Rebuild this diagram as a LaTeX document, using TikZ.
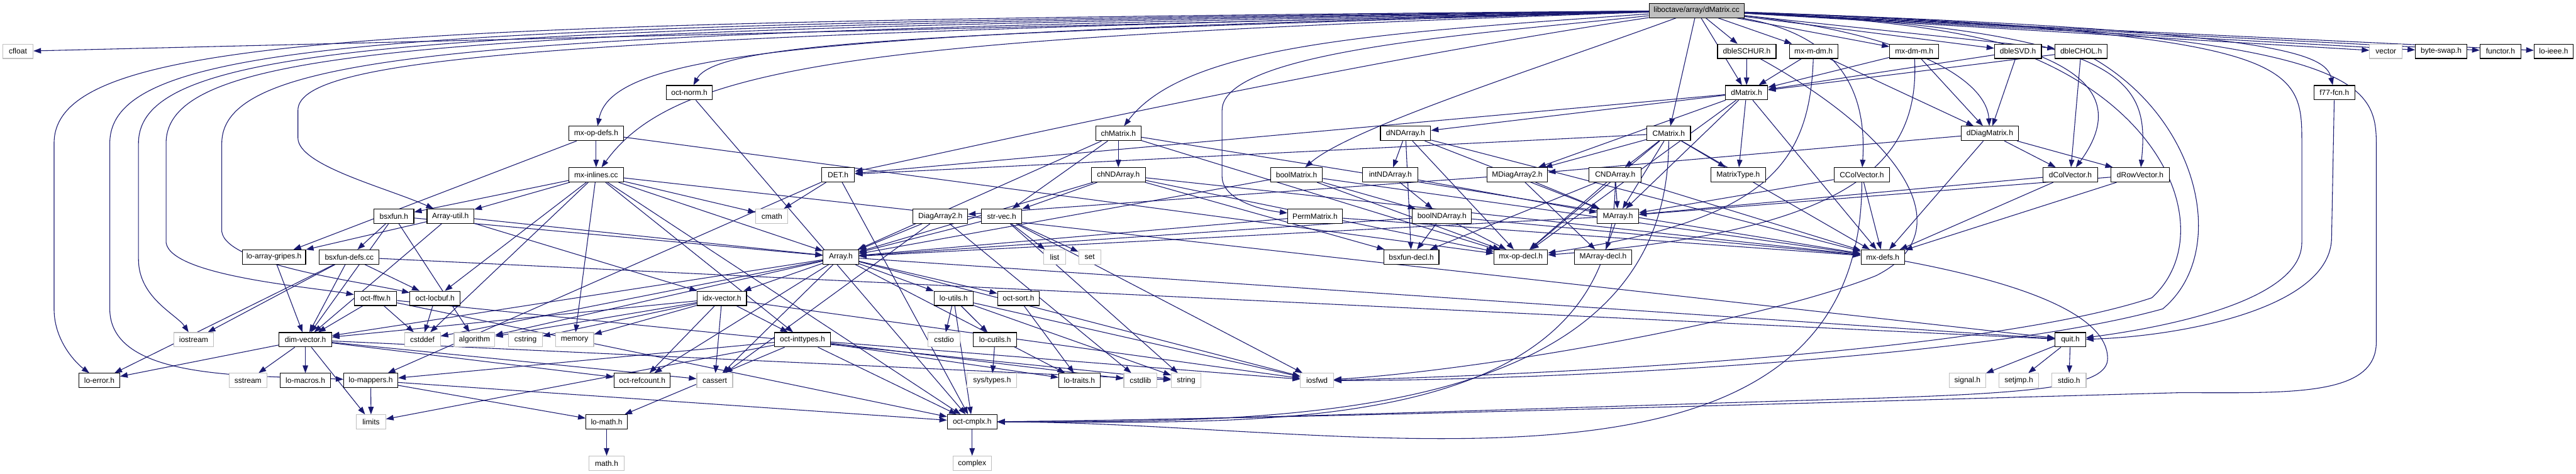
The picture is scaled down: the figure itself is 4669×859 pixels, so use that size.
\documentclass[tikz,border=0pt]{standalone}
\usepackage{fontspec}
\newfontfamily\dotfont{Liberation Sans}
\usetikzlibrary{arrows.meta,backgrounds}
\definecolor{edgeBlue}{HTML}{191970}
\definecolor{sysGray}{HTML}{BFBFBF}
\definecolor{mainFill}{HTML}{BFBFBF}

\begin{document}
\begin{tikzpicture}[x=0.01cm, y=-0.01cm,
    hdr/.style={draw=black, fill=white, line width=0.35pt, minimum height=0.26cm, inner sep=0pt, font=\dotfont\fontsize{3.9pt}{4.6pt}\selectfont},
    sys/.style={hdr, draw=sysGray},
    bw/.style={minimum width=#1*0.01cm},
    dep/.style={draw=edgeBlue, line width=0.35pt, -{Triangle[length=3.9pt,width=2.8pt]}}]
  \useasboundingbox (0,0) rectangle (4669,859);

  \node[hdr, bw=172, fill=mainFill] (main) at (3075,19) {liboctave/array/dMatrix.cc};

  \node[sys, bw=55] (cfloat) at (32.5,93) {cfloat};
  \node[hdr, bw=106] (dbleSCHUR) at (3166,93) {dbleSCHUR.h};
  \node[hdr, bw=88] (mxmdm) at (3287,93) {mx-m-dm.h};
  \node[hdr, bw=89] (mxdmm) at (3469.5,93) {mx-dm-m.h};
  \node[hdr, bw=85] (dbleSVD) at (3657.5,93) {dbleSVD.h};
  \node[hdr, bw=94] (dbleCHOL) at (3772,93) {dbleCHOL.h};
  \node[sys, bw=59] (vector) at (4324.5,93) {vector};
  \node[hdr, bw=93] (byteswap) at (4424.5,93) {byte-swap.h};
  \node[hdr, bw=74] (functor) at (4532,93) {functor.h};
  \node[hdr, bw=71] (loieee) at (4628.5,93) {lo-ieee.h};

  \node[hdr, bw=83] (octnorm) at (1249.5,168) {oct-norm.h};
  \node[hdr, bw=77] (dMatrix) at (3165.5,168) {dMatrix.h};
  \node[hdr, bw=74] (f77fcn) at (4231,168) {f77-fcn.h};

  \node[hdr, bw=99] (mxopdefs) at (1080.5,242) {mx-op-defs.h};
  \node[hdr, bw=82] (chMatrix) at (2027,242) {chMatrix.h};
  \node[hdr, bw=91] (dNDArray) at (2547.5,242) {dNDArray.h};
  \node[hdr, bw=79] (CMatrix) at (3024.5,242) {CMatrix.h};
  \node[hdr, bw=103] (dDiagMatrix) at (3606.5,242) {dDiagMatrix.h};

  \node[hdr, bw=99] (mxinlines) at (1080.5,317) {mx-inlines.cc};
  \node[hdr, bw=60] (DET) at (1519,317) {DET.h};
  \node[hdr, bw=98] (chNDArray) at (2027,317) {chNDArray.h};
  \node[hdr, bw=94] (boolMatrix) at (2350,317) {boolMatrix.h};
  \node[hdr, bw=100] (intNDArray) at (2520,317) {intNDArray.h};
  \node[hdr, bw=110] (MDiagArray2) at (2750,317) {MDiagArray2.h};
  \node[hdr, bw=95] (CNDArray) at (2927.5,317) {CNDArray.h};
  \node[hdr, bw=99] (MatrixType) at (3150.5,317) {MatrixType.h};
  \node[hdr, bw=101] (CColVector) at (3374.5,317) {CColVector.h};
  \node[hdr, bw=99] (dColVector) at (3752.5,317) {dColVector.h};
  \node[hdr, bw=106] (dRowVector) at (3879,317) {dRowVector.h};

  \node[hdr, bw=72] (bsxfun) at (714,392) {bsxfun.h};
  \node[hdr, bw=85] (arrutil) at (816.5,392) {Array-util.h};
  \node[sys, bw=58] (cmath) at (1399,392) {cmath};
  \node[hdr, bw=99] (DiagArray2) at (1704.5,392) {DiagArray2.h};
  \node[hdr, bw=73] (strvec) at (1815.5,392) {str-vec.h};
  \node[hdr, bw=99] (PermMatrix) at (2383.5,392) {PermMatrix.h};
  \node[hdr, bw=107] (boolNDArray) at (2613.5,392) {boolNDArray.h};
  \node[hdr, bw=75] (MArray) at (2932.5,392) {MArray.h};

  \node[hdr, bw=115] (logripes) at (496.5,466) {lo-array-gripes.h};
  \node[hdr, bw=108] (bsxfundefs) at (633,466) {bsxfun-defs.cc};
  \node[hdr, bw=64] (Array) at (1524,466) {Array.h};
  \node[sys, bw=39] (list) at (1911.5,466) {list};
  \node[sys, bw=40] (set) at (1975,466) {set};
  \node[hdr, bw=100] (bsxfundecl) at (2558,466) {bsxfun-decl.h};
  \node[hdr, bw=97] (mxopdecl) at (2756.5,466) {mx-op-decl.h};
  \node[hdr, bw=103] (MArraydecl) at (2905.5,466) {MArray-decl.h};
  \node[hdr, bw=79] (mxdefs) at (3412.5,466) {mx-defs.h};

  \node[hdr, bw=77] (octfftw) at (680.5,541) {oct-fftw.h};
  \node[hdr, bw=91] (octlocbuf) at (788.5,541) {oct-locbuf.h};
  \node[hdr, bw=89] (idxvector) at (1308.5,541) {idx-vector.h};
  \node[hdr, bw=71] (loutils) at (1728.5,541) {lo-utils.h};
  \node[hdr, bw=76] (octsort) at (1846,541) {oct-sort.h};

  \node[sys, bw=72] (iostream) at (351,616) {iostream};
  \node[hdr, bw=95] (dimvector) at (553.5,616) {dim-vector.h};
  \node[sys, bw=65] (cstddef) at (765.5,616) {cstddef};
  \node[sys, bw=74] (algorithm) at (860,616) {algorithm};
  \node[sys, bw=61] (cstring) at (952.5,616) {cstring};
  \node[sys, bw=69] (memory) at (1041.5,616) {memory};
  \node[hdr, bw=101] (octinttypes) at (1454.5,616) {oct-inttypes.h};
  \node[sys, bw=58] (cstdio) at (1711,616) {cstdio};
  \node[hdr, bw=79] (locutils) at (1803.5,616) {lo-cutils.h};
  \node[hdr, bw=55] (quit) at (3752.5,616) {quit.h};

  \node[hdr, bw=74] (loerror) at (180,690) {lo-error.h};
  \node[sys, bw=69] (sstream) at (449.5,690) {sstream};
  \node[hdr, bw=91] (lomacros) at (553.5,690) {lo-macros.h};
  \node[hdr, bw=98] (lomappers) at (672,690) {lo-mappers.h};
  \node[hdr, bw=102] (octrefcount) at (1164,690) {oct-refcount.h};
  \node[sys, bw=65] (cassert) at (1295.5,690) {cassert};
  \node[sys, bw=90] (systypes) at (1798,690) {sys/types.h};
  \node[hdr, bw=75] (lotraits) at (1956.5,690) {lo-traits.h};
  \node[sys, bw=60] (cstdlib) at (2067,690) {cstdlib};
  \node[sys, bw=54] (string) at (2150,690) {string};
  \node[sys, bw=60] (iosfwd) at (2387,690) {iosfwd};
  \node[sys, bw=66] (signal) at (3566,690) {signal.h};
  \node[sys, bw=72] (setjmp) at (3659,690) {setjmp.h};
  \node[sys, bw=62] (stdio) at (3750,690) {stdio.h};

  \node[sys, bw=53] (limits) at (672.5,765) {limits};
  \node[hdr, bw=75] (lomath) at (1099.5,765) {lo-math.h};
  \node[hdr, bw=90] (octcmplx) at (1762,765) {oct-cmplx.h};

  \node[sys, bw=63] (mathh) at (1099.5,840) {math.h};
  \node[sys, bw=70] (complex) at (1762,840) {complex};

  \begin{scope}[on background layer]
    \draw[dep] (main) -- (cfloat);
    \draw[dep] (main) .. controls (700,40) and (98,60) .. (98,260) -- (98,560) .. controls (98,620) and (140,660) .. (loerror);
    \draw[dep] (main) .. controls (750,45) and (199,65) .. (199,260) -- (199,560) .. controls (199,690) and (450,680) .. (lomappers);
    \draw[dep] (main) .. controls (800,50) and (251,70) .. (251,260) -- (251,470) .. controls (251,540) and (320,570) .. (iostream);
    \draw[dep] (main) .. controls (850,55) and (301,75) .. (301,260) -- (301,440) .. controls (310,500) and (560,520) .. (octfftw);
    \draw[dep] (main) .. controls (950,60) and (402,80) .. (402,260) -- (402,420) .. controls (410,480) and (650,510) .. (octlocbuf);
    \draw[dep] (main) .. controls (1050,65) and (540,100) .. (540,200) -- (540,250) .. controls (540,300) and (700,340) .. (arrutil);
    \draw[dep] (main) .. controls (1500,60) and (1110,90) .. (mxopdefs);
    \draw[dep] (main) .. controls (1600,70) and (1230,110) .. (mxinlines);
    \draw[dep] (main) .. controls (1700,60) and (1300,75) .. (octnorm);
    \draw[dep] (main) .. controls (2500,60) and (2150,80) .. (chMatrix);
    \draw[dep] (main) .. controls (2400,120) and (1700,280) .. (DET);
    \draw[dep] (main) .. controls (2800,120) and (2450,230) .. (boolMatrix);
    \draw[dep] (main) .. controls (2700,60) and (2215,90) .. (2215,200) -- (2215,320) .. controls (2215,360) and (2280,380) .. (PermMatrix);
    \foreach \t in {CMatrix,dMatrix,dbleSCHUR,mxmdm,mxdmm,dbleSVD,dbleCHOL,vector,byteswap,functor,loieee}
      \draw[dep] (main) -- (\t);
    \draw[dep] (main) .. controls (3320,60) and (3385,150) .. (CColVector);
    \draw[dep] (main) .. controls (3450,60) and (3600,140) .. (dDiagMatrix);
    \draw[dep] (main) .. controls (3800,50) and (3860,170) .. (dColVector);
    \draw[dep] (main) .. controls (3870,55) and (3895,150) .. (dRowVector);
    \draw[dep] (main) .. controls (4120,55) and (4215,95) .. (f77fcn);
    \draw[dep] (main) .. controls (4140,60) and (4172,110) .. (4172,250) -- (4172,440) .. controls (4172,540) and (3950,590) .. (quit);
    \draw[dep] (f77fcn) -- (4226,430) .. controls (4226,560) and (3950,610) .. (quit);
    \draw[dep] (main) .. controls (4260,60) and (4307,140) .. (4307,260) -- (4307,620) .. controls (4307,720) and (4150,712) .. (3950,712) .. controls (3300,730) and (2300,760) .. (octcmplx);
    \draw[dep] (mxdefs) .. controls (3700,520) and (3820,580) .. (3820,650) .. controls (3820,700) and (3700,712) .. (3400,722) .. controls (2800,740) and (2200,762) .. (octcmplx);

    \draw[dep] (dbleSCHUR) .. controls (3450,250) and (3560,420) .. (3400,500) .. controls (3200,580) and (2700,670) .. (iosfwd);
    \draw[dep] (dbleSVD) .. controls (3950,220) and (4010,440) .. (3900,540) .. controls (3600,640) and (2800,680) .. (iosfwd);
    \draw[dep] (dbleCHOL) .. controls (3990,220) and (4040,460) .. (3920,560) .. controls (3600,650) and (2800,690) .. (iosfwd);
    \draw[dep] (mxmdm) .. controls (3280,300) and (3200,400) .. (mxopdecl);
    \draw[dep] (mxdmm) .. controls (3480,300) and (3350,420) .. (mxopdecl);
    \foreach \t in {CMatrix,CNDArray,CColVector}
      \draw[dep] (\t) to[out=-90,in=0] (octcmplx);

    \draw[dep] (dbleSCHUR) -- (dMatrix);
    \foreach \t in {dMatrix,dDiagMatrix} \draw[dep] (mxmdm) -- (\t);
    \foreach \t in {dMatrix,dDiagMatrix} \draw[dep] (mxdmm) -- (\t);
    \foreach \t in {dMatrix,dDiagMatrix} \draw[dep] (dbleSVD) -- (\t);
    \foreach \t in {dMatrix,dColVector} \draw[dep] (dbleCHOL) -- (\t);
    \foreach \t in {MArray,MDiagArray2,MatrixType,dNDArray,mxdefs,mxopdecl,DET} \draw[dep] (dMatrix) -- (\t);
    \foreach \t in {mxinlines,mxopdecl,logripes} \draw[dep] (mxopdefs) -- (\t);
    \foreach \t in {chNDArray,strvec,Array,mxdefs,mxopdecl} \draw[dep] (chMatrix) -- (\t);
    \foreach \t in {intNDArray,MArray,mxdefs,mxopdecl,bsxfundecl} \draw[dep] (dNDArray) -- (\t);
    \foreach \t in {CNDArray,MArray,MDiagArray2,MatrixType,mxdefs,mxopdecl,DET} \draw[dep] (CMatrix) -- (\t);
    \foreach \t in {MDiagArray2,dColVector,dRowVector,mxdefs} \draw[dep] (dDiagMatrix) -- (\t);
    \foreach \t in {bsxfun,arrutil,cmath,cstddef,memory,octinttypes,octlocbuf,quit,octcmplx,Array} \draw[dep] (mxinlines) -- (\t);
    \foreach \t in {cmath,lomappers,octcmplx} \draw[dep] (DET) -- (\t);
    \foreach \t in {strvec,Array,mxdefs,mxopdecl,bsxfundecl} \draw[dep] (chNDArray) -- (\t);
    \foreach \t in {boolNDArray,Array,mxdefs,mxopdecl} \draw[dep] (boolMatrix) -- (\t);
    \foreach \t in {boolNDArray,MArray} \draw[dep] (intNDArray) -- (\t);
    \foreach \t in {DiagArray2,MArray,MArraydecl} \draw[dep] (MDiagArray2) -- (\t);
    \foreach \t in {MArray,mxdefs,mxopdecl,bsxfundecl} \draw[dep] (CNDArray) -- (\t);
    \foreach \t in {MArray,mxdefs} \draw[dep] (CColVector) -- (\t);
    \foreach \t in {MArray,mxdefs} \draw[dep] (dColVector) -- (\t);
    \foreach \t in {MArray,mxdefs} \draw[dep] (dRowVector) -- (\t);
    \draw[dep] (octnorm) -- (octcmplx);
    \foreach \t in {bsxfundefs,Array,dimvector,algorithm} \draw[dep] (bsxfun) -- (\t);
    \foreach \t in {logripes,Array,dimvector,idxvector} \draw[dep] (arrutil) -- (\t);
    \foreach \t in {Array,cassert,cstdlib} \draw[dep] (DiagArray2) -- (\t);
    \foreach \t in {Array,list,set,string,iosfwd} \draw[dep] (strvec) -- (\t);
    \foreach \t in {Array,mxdefs} \draw[dep] (PermMatrix) -- (\t);
    \foreach \t in {Array,mxdefs,mxopdecl,bsxfundecl} \draw[dep] (boolNDArray) -- (\t);
    \foreach \t in {Array,MArraydecl} \draw[dep] (MArray) -- (\t);
    \draw[dep] (logripes) -- (dimvector);
    \foreach \t in {dimvector,octlocbuf,loerror,iostream,quit} \draw[dep] (bsxfundefs) -- (\t);
    \foreach \t in {idxvector,loutils,octsort,dimvector,cassert,cstddef,algorithm,iosfwd,quit,lotraits,octrefcount} \draw[dep] (Array) -- (\t);
    \foreach \t in {dimvector,cstddef,octcmplx,string} \draw[dep] (octfftw) -- (\t);
    \draw[dep] (octlocbuf) -- (cstddef);
    \foreach \t in {dimvector,algorithm,cstring,memory,octinttypes,octrefcount,cassert,iosfwd} \draw[dep] (idxvector) -- (\t);
    \foreach \t in {cstdio,locutils,octcmplx,string,iosfwd} \draw[dep] (loutils) -- (\t);
    \draw[dep] (octsort) -- (lotraits);
    \foreach \t in {loerror,sstream,lomacros,limits,cassert,octrefcount,string} \draw[dep] (dimvector) -- (\t);
    \foreach \t in {lomath,lomappers,limits,octcmplx,lotraits,cstdlib,iosfwd} \draw[dep] (octinttypes) -- (\t);
    \draw[dep] (locutils) -- (systypes);
    \foreach \t in {signal,setjmp,stdio} \draw[dep] (quit) -- (\t);
    \foreach \t in {limits,lomath,octcmplx} \draw[dep] (lomappers) -- (\t);
    \draw[dep] (lomath) -- (mathh);
    \draw[dep] (octcmplx) -- (complex);
  \end{scope}
\end{tikzpicture}
\end{document}
